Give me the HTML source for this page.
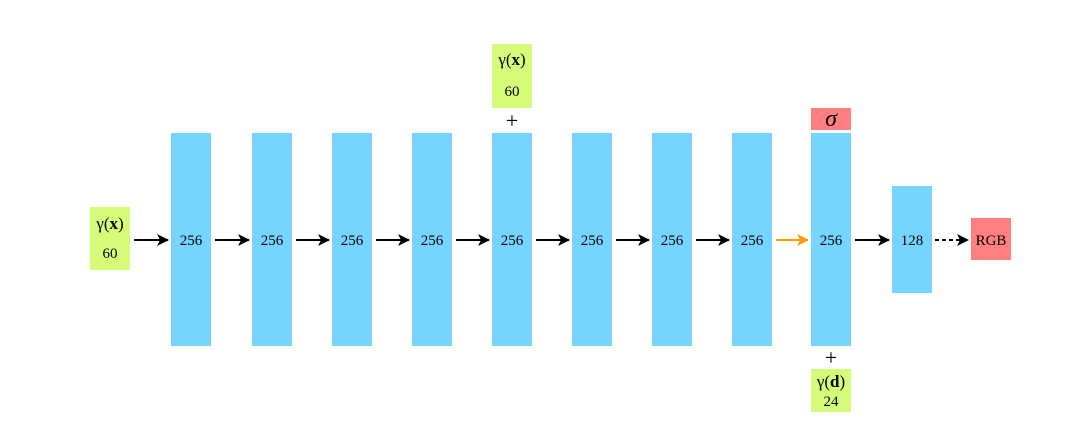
<!DOCTYPE html>
<html><head><meta charset="utf-8"><style>
html,body{margin:0;padding:0;background:#fff;}
svg{display:block;font-family:"Liberation Serif",serif;}
</style></head><body>
<svg id="d" width="1080" height="428" viewBox="0 0 1080 428" xmlns="http://www.w3.org/2000/svg">
<defs>
<marker id="ab" markerWidth="12" markerHeight="12" refX="11" refY="6" orient="auto" markerUnits="userSpaceOnUse"><path d="M0,0 L12,6 L0,12 L3,6 z" fill="#000"/></marker>
<marker id="ao" markerWidth="12" markerHeight="12" refX="11" refY="6" orient="auto" markerUnits="userSpaceOnUse"><path d="M0,0 L12,6 L0,12 L3,6 z" fill="#ff9a00"/></marker>
</defs>
</svg>
<script>
const layerLabels = ["256","256","256","256","256","256","256","256","256"];
const layerX = [171,252,332,412,492,572,652,732,811];
const smallLayerLabel = "128";
const NS="http://www.w3.org/2000/svg";
const svg=document.getElementById('d');
function mk(tag,attrs,parent){const e=document.createElementNS(NS,tag);for(const k in attrs)e.setAttribute(k,attrs[k]);(parent||svg).appendChild(e);return e;}
function txt(x,y,s,size,name,extra){const t=mk('text',Object.assign({x:x,y:y,'text-anchor':'middle','font-size':size,fill:'#000'},extra||{}));t.textContent=s;return t;}
function gam(x,y,v,name){const t=mk('text',{x:x,y:y,'text-anchor':'middle','font-size':17,fill:'#000'});
  mk('tspan',{},t).textContent="γ(";const b=mk('tspan',{'font-weight':'bold'},t);b.textContent=v;mk('tspan',{},t).textContent=")";return t;}
const BLUE="#76d5fe",GREEN="#d5fc79",RED="#ff7f7f";
const cy=240;
let r=mk('rect',{x:90,y:207,width:40,height:63,fill:GREEN});


gam(110,229,"x",'input-gamma-x-label');
txt(110,258,"60",15,'input-dim-label');
layerX.forEach((x,i)=>{
  const b=mk('rect',{x:x,y:133,width:40,height:213,fill:BLUE});
  
  
  txt(x+20,cy+5,layerLabels[i],15,'layer-'+(i+1)+'-label');
});
let s=mk('rect',{x:892,y:186,width:40,height:107,fill:BLUE});


txt(912,cy+5,smallLayerLabel,15,'layer-128-label');
let rg=mk('rect',{x:971,y:218,width:40,height:42,fill:RED});


txt(991,cy+5,"RGB",15,'rgb-label');
let sg=mk('rect',{x:811,y:108,width:40,height:22,fill:RED});


txt(831,126,"σ",24,'sigma-label',{'font-style':'italic'});
let sk=mk('rect',{x:492,y:44,width:40,height:64,fill:GREEN});


gam(512,65,"x",'skip-gamma-x-label');
txt(512,96,"60",15,'skip-dim-label');
txt(512,128,"+",22,'skip-plus');
let dr=mk('rect',{x:811,y:369,width:40,height:43,fill:GREEN});


gam(831,387,"d",'dir-gamma-d-label');
txt(831,406,"24",15,'dir-dim-label');
txt(831,365,"+",22,'dir-plus');
const starts=[130].concat(layerX.map(x=>x+40));
const ends=layerX.concat([892]);
starts.forEach((x0,i)=>{
  const orange=(i===8);
  const a=mk('line',{x1:x0+4,y1:cy,x2:ends[i]-3,y2:cy,stroke:orange?'#ff9a00':'#000','stroke-width':2,'marker-end':orange?'url(#ao)':'url(#ab)'});
  
  
});
const da=mk('line',{x1:935,y1:cy,x2:968,y2:cy,stroke:'#000','stroke-width':2,'stroke-dasharray':'4,3','marker-end':'url(#ab)'});


</script>
</body></html>
